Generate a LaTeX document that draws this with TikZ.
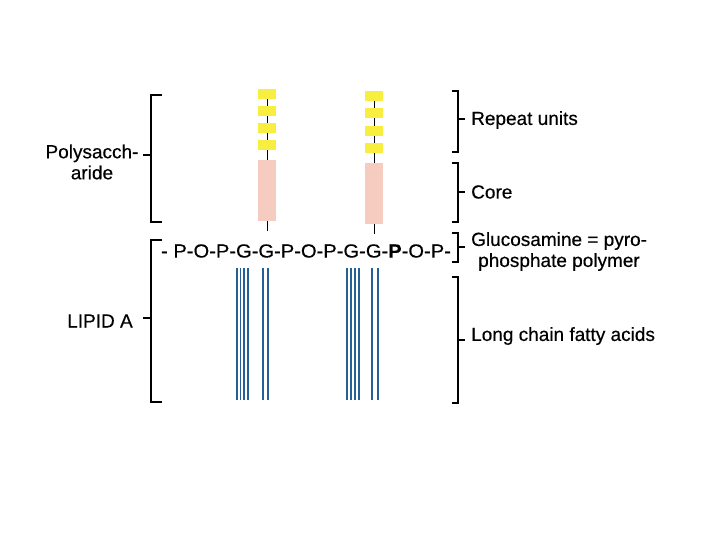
\documentclass[tikz,border=0pt]{standalone}
\usepackage{fontspec}
\setmainfont[FakeBold=0.4]{Liberation Sans}
\begin{document}
\begin{tikzpicture}[x=1pt,y=-1pt,
  lbl/.style={font=\fontsize{19}{21}\selectfont, inner sep=0pt, text=black},
  ybox/.style={fill=ybfill, draw=none, minimum width=18pt, minimum height=10pt, inner sep=0pt},
  pbox/.style={fill=pinkcore, draw=none, minimum width=18pt, inner sep=0pt},
  brk/.style={line width=2pt, black},
  fat/.style={line width=1.8pt, fatblue},
  stem/.style={line width=0.8pt, black}]
\definecolor{pinkcore}{RGB}{246,204,192}
\definecolor{fatblue}{RGB}{38,96,150}
\definecolor{ybfill}{RGB}{248,238,64}
\useasboundingbox (0,0) rectangle (720,540);
\fill[white] (0,0) rectangle (720,540);

% ---- left brackets
\draw[brk] (162,95) -- (151,95) -- (151,222) -- (162,222);
\draw[brk] (151,155) -- (143,155);
\draw[brk] (162,240) -- (151,240) -- (151,402) -- (162,402);
\draw[brk] (151,318) -- (143,318);

\node[lbl, align=center] (poly) at (92,162) {Polysacch-\\aride};
\node[lbl] (lipid) at (100,321) {LIPID A};

% ---- right brackets
\draw[brk] (452,91) -- (458,91) -- (458,152) -- (452,152);
\draw[brk] (458,119) -- (465,119);
\draw[brk] (452,163) -- (458,163) -- (458,222) -- (452,222);
\draw[brk] (458,192) -- (465,192);
\draw[brk] (452,233) -- (458,233) -- (458,262) -- (452,262);
\draw[brk] (458,247) -- (465,247);
\draw[brk] (452,277) -- (458,277) -- (458,403) -- (452,403);
\draw[brk] (458,340) -- (465,340);

\node[lbl, anchor=west] (rep) at (471,120) {Repeat units};
\node[lbl, anchor=west] (core) at (471,192) {Core};
\node[lbl, anchor=west] (glu1) at (471,241) {Glucosamine = pyro-};
\node[lbl, anchor=west] (glu2) at (478,262) {phosphate polymer};
\node[lbl, anchor=west] (lcfa) at (471,336) {Long chain fatty acids};

% ---- chain 1
\coordinate (s1) at (267,231);
\node[pbox, minimum height=61pt] (c1) at (267,190.5) {};
\node[ybox] (a1) at (267,94) {};
\node[ybox] (a2) at (267,111) {};
\node[ybox] (a3) at (267,128) {};
\node[ybox] (a4) at (267,145) {};
\draw[stem] (a1) -- (a2);
\draw[stem] (a2) -- (a3);
\draw[stem] (a3) -- (a4);
\draw[stem] (a4) -- (c1);
\draw[stem] (c1) -- (s1);

% ---- chain 2
\coordinate (s2) at (374,234);
\node[pbox, minimum height=61pt] (c2) at (374,193.5) {};
\node[ybox] (b1) at (374,96) {};
\node[ybox] (b2) at (374,113) {};
\node[ybox] (b3) at (374,131) {};
\node[ybox] (b4) at (374,148) {};
\draw[stem] (b1) -- (b2);
\draw[stem] (b2) -- (b3);
\draw[stem] (b3) -- (b4);
\draw[stem] (b4) -- (c2);
\draw[stem] (c2) -- (s2);

% ---- backbone text
\node[lbl] (chain) at (306,251) {\scalebox{1.06}[1]{- P-O-P-G-G-P-O-P-G-G-\textbf{P}-O-P-}};

% ---- fatty acids
\foreach \x [count=\i] in {237,240.5,244,248,263,268,347,351,355,359,372,378}{
  \coordinate (ft\i) at (\x,268);
  \coordinate (fb\i) at (\x,400);
  \draw[fat] (ft\i) -- (fb\i);
}
\end{tikzpicture}
\end{document}
